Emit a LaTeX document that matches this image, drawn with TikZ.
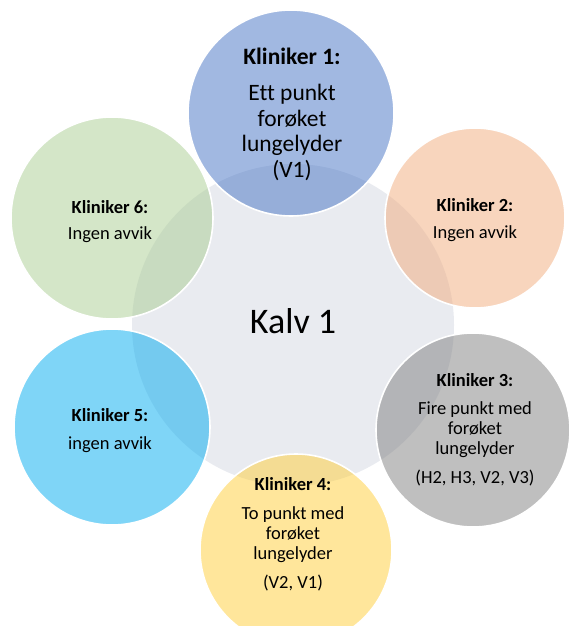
\documentclass[tikz,border=0pt]{standalone}
\usepackage{fontspec}
\setmainfont{Carlito}[Ligatures=NoCommon]
\definecolor{centerC}{HTML}{E9EBF0}
\definecolor{blueC}{HTML}{4472C4}
\definecolor{orangeC}{HTML}{F1AB7B}
\definecolor{grayC}{HTML}{7F7F7F}
\definecolor{yellowC}{HTML}{FFCE38}
\definecolor{lblueC}{HTML}{00ABEF}
\definecolor{greenC}{HTML}{A9CD91}
\begin{document}
\begin{tikzpicture}[x=1pt,y=-1pt,
  outer/.style={circle, draw=white, line width=1.6pt, fill opacity=0.5, inner sep=0pt, outer sep=0pt},
  bigtitle/.style={anchor=base, inner sep=0pt, font=\fontsize{23.5}{27}\selectfont\bfseries},
  bigbody/.style={anchor=base, inner sep=0pt, font=\fontsize{23.5}{27}\selectfont},
  ttl/.style={anchor=base, inner sep=0pt, font=\fontsize{18.5}{22}\selectfont\bfseries},
  bdy/.style={anchor=base, inner sep=0pt, font=\fontsize{18.5}{22}\selectfont},
  hub/.style={anchor=base, inner sep=0pt, font=\fontsize{36}{42}\selectfont}]
\useasboundingbox (0,0) rectangle (570,626);
% central circle
\node[circle, fill=centerC, inner sep=0pt, minimum size=322pt] (hubc) at (293,325) {};
% outer circles
\node[outer, fill=blueC,   minimum size=206pt] (c1) at (291,113) {};
\node[outer, fill=orangeC, minimum size=180pt] (c2) at (475,218) {};
\node[outer, fill=grayC,   minimum size=194pt] (c3) at (473,430) {};
\node[outer, fill=yellowC, minimum size=192pt] (c4) at (296,550) {};
\node[outer, fill=lblueC,  minimum size=196pt] (c5) at (112,427) {};
\node[outer, fill=greenC,  minimum size=202pt] (c6) at (112,218) {};
% centre text
\node[hub] (kalv) at (293,333) {Kalv 1};
% circle 1
\node[bigtitle] (t1) at (292,64) {Kliniker 1:};
\node[bigbody] (t1a) at (292,100.5) {Ett punkt};
\node[bigbody] (t1b) at (292,126) {forøket};
\node[bigbody] (t1c) at (292,151.5) {lungelyder};
\node[bigbody] (t1d) at (292,177.5) {(V1)};
% circle 2
\node[ttl] (t2) at (475,211) {Kliniker 2:};
\node[bdy] (t2a) at (475,238) {Ingen avvik};
% circle 3
\node[ttl] (t3) at (475,386) {Kliniker 3:};
\node[bdy] (t3a) at (475,414) {Fire punkt med};
\node[bdy] (t3b) at (475,434) {forøket};
\node[bdy] (t3c) at (475,454) {lungelyder};
\node[bdy] (t3d) at (475,483) {(H2, H3, V2, V3)};
% circle 4
\node[ttl] (t4) at (293,490) {Kliniker 4:};
\node[bdy] (t4a) at (293,519) {To punkt med};
\node[bdy] (t4b) at (293,539) {forøket};
\node[bdy] (t4c) at (293,559) {lungelyder};
\node[bdy] (t4d) at (293,588) {(V2, V1)};
% circle 5
\node[ttl] (t5) at (110,421) {Kliniker 5:};
\node[bdy] (t5a) at (110,449) {ingen avvik};
% circle 6
\node[ttl] (t6) at (110,213) {Kliniker 6:};
\node[bdy] (t6a) at (110,239) {Ingen avvik};
\end{tikzpicture}
\end{document}
